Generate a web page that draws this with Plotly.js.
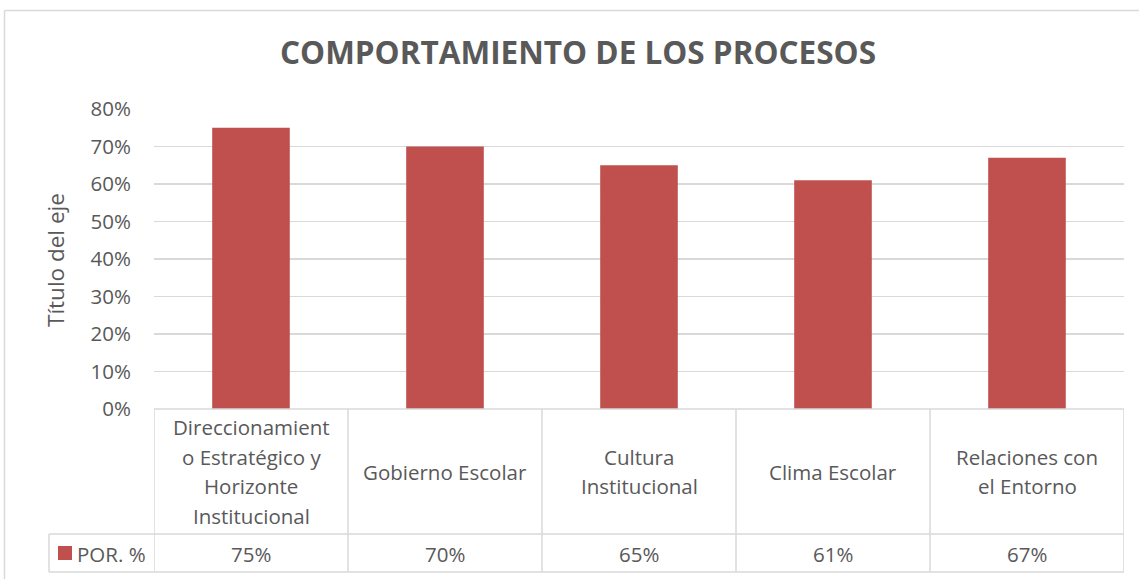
<!DOCTYPE html>
<html>
<head>
<meta charset="utf-8">
<script src="https://cdn.plot.ly/plotly-3.0.1.min.js"></script>
<style>html,body{margin:0;padding:0;background:#fff;}#chart{width:1139px;height:579px;}</style>
</head>
<body>
<div id="chart"></div>
<script>
const chartTitle = "COMPORTAMIENTO DE LOS PROCESOS";
const yAxisTitle = "Título del eje";
const seriesName = "POR. %";
const categoryLines = [
  ["Direccionamient", "o Estratégico y", "Horizonte", "Institucional"],
  ["Gobierno Escolar"],
  ["Cultura", "Institucional"],
  ["Clima Escolar"],
  ["Relaciones con", "el Entorno"]
];
const values = [0.75, 0.70, 0.65, 0.61, 0.67];
const yTickVals = [0, 0.1, 0.2, 0.3, 0.4, 0.5, 0.6, 0.7, 0.8];
const yTickText = ["0%", "10%", "20%", "30%", "40%", "50%", "60%", "70%", "80%"];

const W = 1139, H = 579;
const mL = 154, mR = 15, mT = 109, mB = 170;
const plotW = W - mL - mR, plotH = H - mT - mB;
const px2x = p => (p - mL) / plotW;
const py2y = p => (H - mB - p) / plotH;

const grey = "#595959";
const lineCol = "#d9d9d9";
const barCol = "#c0504d";
const FONT = "Open Sans, sans-serif";
const TXT = 20.5;

const xIdx = categoryLines.map((_, i) => i);

const shapes = [];
const annotations = [];
const rowMid = py2y(534);
const rowBot = py2y(572);

for (let i = 0; i <= categoryLines.length; i++) {
  shapes.push({type: "line", xref: "x", yref: "paper", x0: i - 0.5, x1: i - 0.5, y0: 0, y1: rowBot,
    line: {color: lineCol, width: 1.5}});
}
shapes.push({type: "line", xref: "paper", yref: "paper", x0: 0, x1: 1, y0: 0, y1: 0, line: {color: lineCol, width: 1.5}});
shapes.push({type: "line", xref: "paper", yref: "paper", x0: px2x(49), x1: 1, y0: rowMid, y1: rowMid, line: {color: lineCol, width: 1.5}});
shapes.push({type: "line", xref: "paper", yref: "paper", x0: px2x(49), x1: 1, y0: rowBot, y1: rowBot, line: {color: lineCol, width: 1.5}});
shapes.push({type: "line", xref: "paper", yref: "paper", x0: px2x(49), x1: px2x(49), y0: rowMid, y1: rowBot, line: {color: lineCol, width: 1.5}});
shapes.push({type: "rect", xref: "paper", yref: "paper", x0: px2x(58), x1: px2x(72), y0: py2y(560), y1: py2y(546),
  fillcolor: barCol, line: {width: 0}});
shapes.push({type: "line", xref: "paper", yref: "paper", x0: px2x(4.5), x1: px2x(1145), y0: py2y(10.5), y1: py2y(10.5), line: {color: lineCol, width: 1.5}});
shapes.push({type: "line", xref: "paper", yref: "paper", x0: px2x(4.5), x1: px2x(4.5), y0: py2y(10.5), y1: py2y(585), line: {color: lineCol, width: 1.5}});

const lineGap = 29.5;
const headCenter = 471.5;
categoryLines.forEach((lines, i) => {
  const n = lines.length;
  lines.forEach((t, k) => {
    const yc = headCenter + (k - (n - 1) / 2) * lineGap;
    annotations.push({xref: "x", yref: "paper", x: i, y: py2y(yc), text: t, showarrow: false,
      xanchor: "center", yanchor: "middle", font: {family: FONT, size: TXT, color: grey}});
  });
});
values.forEach((v, i) => {
  annotations.push({xref: "x", yref: "paper", x: i, y: py2y(553.5), text: Math.round(v * 100) + "%", showarrow: false,
    xanchor: "center", yanchor: "middle", font: {family: FONT, size: TXT, color: grey}});
});
annotations.push({xref: "paper", yref: "paper", x: px2x(75), y: py2y(553.5), text: seriesName, showarrow: false,
  xanchor: "left", yanchor: "middle", font: {family: FONT, size: TXT, color: grey}});
annotations.push({xref: "paper", yref: "paper", x: px2x(55), y: py2y(260), text: yAxisTitle, showarrow: false,
  textangle: -90, xanchor: "center", yanchor: "middle", font: {family: FONT, size: 22.5, color: grey}});

const data = [{
  type: "bar",
  x: xIdx,
  y: values,
  name: seriesName,
  marker: {color: barCol, line: {width: 0}},
  hoverinfo: "none"
}];

const layout = {
  width: W, height: H,
  margin: {l: mL, r: mR, t: mT, b: mB, pad: 0},
  paper_bgcolor: "#ffffff",
  plot_bgcolor: "#ffffff",
  showlegend: false,
  bargap: 0.6,
  title: {text: "<b>" + chartTitle + "</b>", xref: "container", yref: "container", x: 578 / W, y: 1 - 53 / H,
    xanchor: "center", yanchor: "middle", font: {family: FONT, size: 31.5, color: grey}},
  xaxis: {range: [-0.5, categoryLines.length - 0.5], showticklabels: false, showgrid: false, zeroline: false,
    showline: false, ticks: "", fixedrange: true},
  yaxis: {range: [0, 0.8], tickvals: yTickVals, ticktext: yTickText, showgrid: true, gridcolor: lineCol, gridwidth: 1.5,
    zeroline: false, showline: false, ticks: "", ticklabelstandoff: 22,
    tickfont: {family: FONT, size: TXT, color: grey}, fixedrange: true},
  shapes: shapes,
  annotations: annotations
};

Plotly.newPlot("chart", data, layout, {displayModeBar: false, staticPlot: true});
</script>
</body>
</html>
